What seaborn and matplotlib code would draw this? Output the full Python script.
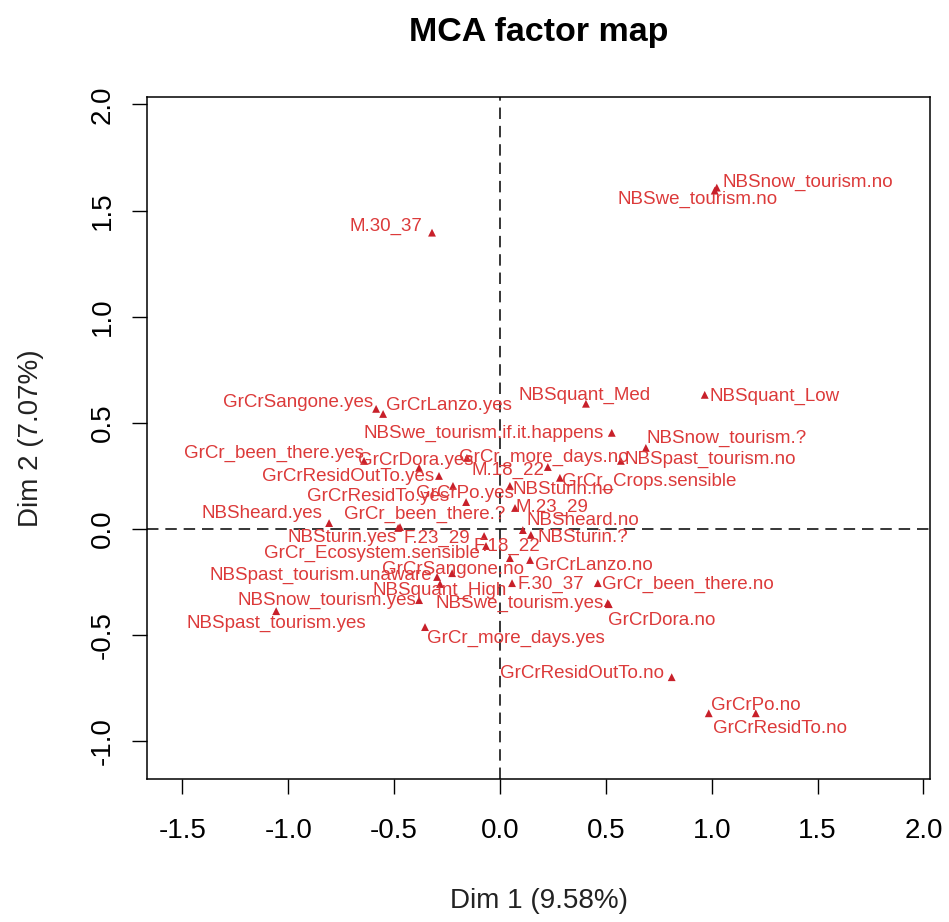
import matplotlib
matplotlib.use("Agg")
import matplotlib.pyplot as plt
import seaborn as sns
import pandas as pd

# MCA category coordinates (Dim 1, Dim 2)
categories = [
    "M.30_37", "NBSnow_tourism.no", "NBSwe_tourism.no", "NBSquant_Med", "NBSquant_Low",
    "NBSwe_tourism.if.it.happens", "NBSnow_tourism.?", "NBSpast_tourism.no", "GrCr_more_days.no",
    "GrCrSangone.yes", "GrCrLanzo.yes", "GrCr_been_there.yes", "GrCrDora.yes", "GrCrResidOutTo.yes",
    "GrCrResidTo.yes", "GrCrPo.yes", "M.18_22", "NBSturin.no", "GrCr_Crops.sensible", "M.23_29",
    "NBSheard.no", "NBSheard.yes", "GrCr_been_there.?", "NBSturin.yes", "F.23_29", "F.18_22",
    "NBSturin.?", "GrCr_Ecosystem.sensible", "GrCrLanzo.no", "GrCrSangone.no",
    "NBSpast_tourism.unaware", "F.30_37", "GrCr_been_there.no", "NBSwe_tourism.yes",
    "NBSnow_tourism.yes", "NBSpast_tourism.yes", "GrCr_more_days.yes", "GrCrDora.no",
    "GrCrResidOutTo.no", "GrCrPo.no", "GrCrResidTo.no", "NBSquant_High",
]
dim1 = [
    -0.321, 1.024, 1.014, 0.406, 0.967,
    0.528, 0.689, 0.571, -0.156,
    -0.585, -0.552, -0.642, -0.382, -0.288,
    -0.222, -0.160, 0.226, 0.047, 0.283, 0.071,
    0.108, -0.807, -0.472, -0.481, -0.075, 0.047,
    0.146, -0.066, 0.142, -0.226,
    -0.297, 0.057, 0.462, 0.509,
    -0.382, -1.057, -0.354, 0.514,
    0.811, 0.986, 1.208, -0.283,
]
dim2 = [
    1.396, 1.608, 1.594, 0.590, 0.632,
    0.453, 0.382, 0.321, 0.335,
    0.566, 0.542, 0.321, 0.288, 0.250,
    0.203, 0.127, 0.292, 0.203, 0.241, 0.099,
    -0.005, 0.028, 0.009, 0.005, -0.033, -0.137,
    -0.028, -0.080, -0.146, -0.208,
    -0.226, -0.255, -0.255, -0.349,
    -0.335, -0.387, -0.462, -0.354,
    -0.698, -0.868, -0.868, -0.259,
]
# where the (repelled) labels ended up, in the same units
label_x = [
    -0.538, 1.453, 0.934, 0.401, 1.297,
    -0.078, 1.071, 0.995, 0.205,
    -0.953, -0.241, -1.066, -0.396, -0.717,
    -0.575, -0.165, 0.038, 0.297, 0.703, 0.245,
    0.392, -1.123, -0.354, -0.745, -0.297, 0.033,
    0.392, -0.604, 0.443, -0.222,
    -0.844, 0.241, 0.887, 0.094,
    -0.816, -1.057, 0.075, 0.764,
    0.387, 1.208, 1.321, -0.283,
]
label_y = [
    1.425, 1.632, 1.552, 0.627, 0.623,
    0.448, 0.425, 0.330, 0.335,
    0.594, 0.580, 0.358, 0.325, 0.245,
    0.151, 0.165, 0.274, 0.184, 0.222, 0.104,
    0.038, 0.071, 0.071, -0.042, -0.042, -0.080,
    -0.042, -0.113, -0.170, -0.193,
    -0.217, -0.259, -0.259, -0.349,
    -0.335, -0.443, -0.514, -0.429,
    -0.679, -0.830, -0.939, -0.288,
]

df = pd.DataFrame({"cat": categories, "dim1": dim1, "dim2": dim2,
                   "lx": label_x, "ly": label_y})

sns.set_style("white")
plt.rcParams["font.family"] = ["Liberation Sans", "DejaVu Sans"]
plt.rcParams["axes.unicode_minus"] = False

fig = plt.figure(figsize=(9.49, 9.22), dpi=100)
ax = fig.add_axes([0.1549, 0.155, 0.8251, 0.7398])

ax.axhline(0, color="black", lw=1.1, ls=(0, (7.5, 4.5)), zorder=1)
ax.axvline(0, color="black", lw=1.1, ls=(0, (7.5, 4.5)), zorder=1)

sns.scatterplot(data=df, x="dim1", y="dim2", marker="^", s=32, color="#C8202A",
                edgecolor="none", ax=ax, zorder=3)

for _, r in df.iterrows():
    ax.text(r["lx"], r["ly"], r["cat"], color="#DC3A3A", fontsize=13.5,
            ha="center", va="center", zorder=4)

ax.set_xlim(-1.667, 2.031)
ax.set_ylim(-1.178, 2.035)
xt = [-1.5, -1.0, -0.5, 0.0, 0.5, 1.0, 1.5, 2.0]
yt = [-1.0, -0.5, 0.0, 0.5, 1.0, 1.5, 2.0]
ax.set_xticks(xt)
ax.set_xticklabels([f"{v:.1f}" for v in xt])
ax.set_yticks(yt)
ax.set_yticklabels([f"{v:.1f}" for v in yt], rotation=90, va="center")

ax.tick_params(axis="both", direction="out", length=10.8, width=1.0,
               labelsize=20, colors="black", left=True, bottom=True)
ax.tick_params(axis="x", pad=17)
ax.tick_params(axis="y", pad=11.5)
for sp in ax.spines.values():
    sp.set_color("black")
    sp.set_linewidth(1.1)

ax.set_xlabel("Dim 1 (9.58%)", fontsize=20, color="#222222")
ax.set_ylabel("Dim 2 (7.07%)", fontsize=20, color="#222222")
ax.xaxis.set_label_coords(0.5, -0.159)
ax.yaxis.set_label_coords(-0.131, 0.5)
ax.set_title("MCA factor map", fontsize=24.5, fontweight="bold", color="black", pad=40)

fig.savefig("out.png", dpi=100)
